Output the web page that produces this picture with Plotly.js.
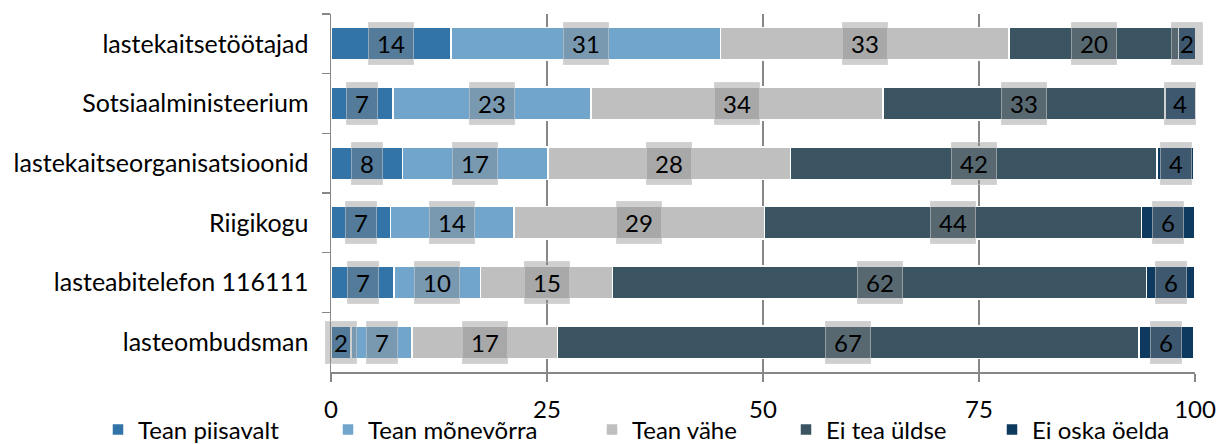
<!DOCTYPE html>
<html><head><meta charset="utf-8">
<script src="https://cdn.plot.ly/plotly-3.0.1.min.js"></script>
<style>html,body{margin:0;padding:0;background:#fff;}#chart{width:1217px;height:444px;}</style>
</head><body><div id="chart"></div>
<script>
const categories = ["lastekaitsetöötajad","Sotsiaalministeerium","lastekaitseorganisatsioonid","Riigikogu","lasteabitelefon 116111","lasteombudsman"];
const seriesNames = ["Tean piisavalt","Tean mõnevõrra","Tean vähe","Ei tea üldse","Ei oska öelda"];
const teanPiisavalt = [13.9, 7.2, 8.3, 6.9, 7.3, 2.3];
const teanMonevorra = [31.2, 22.9, 16.8, 14.3, 10.0, 7.1];
const teanVahe      = [33.4, 33.8, 28.1, 29.0, 15.3, 16.8];
const eiTeaUldse    = [19.6, 32.6, 42.4, 43.6, 61.8, 67.3];
const eiOskaOelda   = [2.0, 3.6, 4.3, 6.2, 5.6, 6.4];
const xTicks = [0, 25, 50, 75, 100];
const colors = ["#3274A7","#71A5CB","#BFBFBF","#3A5461","#0E3A5F"];
// legend entry left edges (px in the 1217px-wide figure)
const legendLeft = [98, 328, 592, 786, 992];

const series = [teanPiisavalt, teanMonevorra, teanVahe, eiTeaUldse, eiOskaOelda];
const FONT = "Lato, 'Liberation Sans', sans-serif";
const W = 1217, H = 444;

const traces = series.map((vals, i) => ({
  type: 'bar', orientation: 'h', name: seriesNames[i],
  y: categories, x: vals,
  legend: i === 0 ? 'legend' : 'legend' + (i + 1),
  marker: {color: colors[i], line: {color: '#ffffff', width: 1.5}},
  hoverinfo: 'x+name'
}));

const annotations = [];
categories.forEach((cat, r) => {
  let cum = 0;
  series.forEach((vals) => {
    const v = vals[r];
    const label = String(Math.round(v));
    annotations.push({
      x: cum + v / 2, y: cat, xref: 'x', yref: 'y',
      text: label, showarrow: false,
      font: {family: FONT, size: 24, color: '#000'},
      bgcolor: 'rgba(135,135,135,0.40)',
      bordercolor: 'rgba(200,200,200,0.6)', borderwidth: 1,
      width: 14 + 14 * label.length, height: 39,
      xanchor: 'center', yanchor: 'middle'
    });
    cum += v;
  });
});

const layout = {
  width: W, height: H,
  margin: {l: 331, r: 22, t: 14, b: 72, autoexpand: false},
  barmode: 'stack', bargap: 0.45,
  paper_bgcolor: '#fff', plot_bgcolor: '#fff',
  font: {family: FONT, size: 22, color: '#000'},
  showlegend: true,
  xaxis: {range: [0, 100], tickvals: xTicks, ticktext: xTicks.map(String),
          showgrid: true, gridcolor: '#878787', gridwidth: 1.5,
          zeroline: false, showline: true, linecolor: '#878787', linewidth: 1.5,
          ticks: 'outside', ticklen: 8, tickcolor: '#878787', tickwidth: 1.5,
          ticklabelstandoff: 8,
          tickfont: {family: FONT, size: 24, color: '#000'}, fixedrange: true},
  yaxis: {type: 'category', autorange: 'reversed', showgrid: false, zeroline: false,
          showline: true, linecolor: '#878787', linewidth: 1.5,
          ticks: 'outside', ticklen: 8, tickcolor: '#878787', tickwidth: 1.5, tickson: 'boundaries',
          ticklabelstandoff: 16,
          tickfont: {family: FONT, size: 25, color: '#000'}, fixedrange: true},
  annotations: annotations
};
legendLeft.forEach((lx, i) => {
  layout[i === 0 ? 'legend' : 'legend' + (i + 1)] = {
    orientation: 'h', xref: 'container', yref: 'container',
    x: lx / W, xanchor: 'left', y: (H - 430) / H, yanchor: 'middle',
    bgcolor: 'rgba(0,0,0,0)', borderwidth: 0,
    font: {family: FONT, size: 24, color: '#000'}, itemwidth: 30
  };
});

Plotly.newPlot('chart', traces, layout, {displayModeBar: false, staticPlot: true});
</script></body></html>
